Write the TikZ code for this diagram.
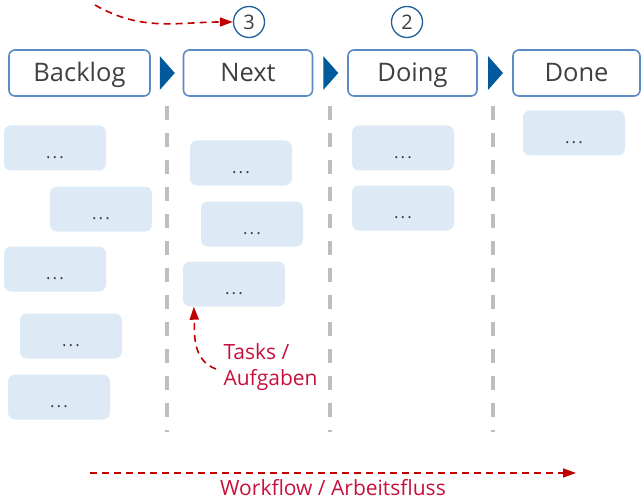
\documentclass[tikz,border=0pt]{standalone}
\usepackage{fontspec}
\setmainfont{Open Sans}
\usetikzlibrary{arrows.meta,calc}
\definecolor{boxblue}{RGB}{91,138,198}
\definecolor{tipblue}{RGB}{0,90,156}
\definecolor{countblue}{RGB}{31,95,155}
\definecolor{cardblue}{RGB}{221,234,245}
\definecolor{txtgray}{RGB}{64,64,64}
\definecolor{lanegray}{RGB}{190,190,190}
\definecolor{flowred}{RGB}{192,0,0}
\definecolor{notered}{RGB}{200,16,60}

\begin{document}
\begin{tikzpicture}[x=1pt,y=-1pt,
   stage/.style={draw=boxblue, line width=1.6pt, rounded corners=6pt, fill=white,
                 minimum height=46pt, minimum width=129pt, text=txtgray,
                 text height=23pt, text depth=5pt, inner ysep=0pt,
                 font=\fontsize{25.5}{28}\selectfont},
   card/.style={fill=cardblue, rounded corners=7pt, minimum width=102pt,
                minimum height=45pt, text height=21pt, text depth=0pt, inner sep=0pt,
                text=txtgray, font=\fontsize{17}{17}\selectfont},
   count/.style={draw=countblue, circle, line width=1.3pt, minimum size=31pt,
                 inner sep=0pt, text=txtgray, font=\fontsize{20}{20}\selectfont},
   lane/.style={draw=lanegray, line width=3.5pt, dash pattern=on 14pt off 13pt},
   flowtip/.style={fill=tipblue},
   flow/.style={draw=flowred, line width=1.6pt, dash pattern=on 7pt off 5pt,
                -{Triangle[length=13pt,width=9pt]}},
   note/.style={text=notered, font=\fontsize{21}{26}\selectfont}]

\useasboundingbox (0,0) rectangle (641,503);

% lanes
\foreach \lx in {167,330,493}
   \draw[lane] (\lx,106) -- (\lx,432);

% stages
\node[stage, minimum width=141pt] (backlog) at (79.5,73) {Backlog};
\node[stage] (next)  at (248,73)   {Next};
\node[stage] (doing) at (412.5,73) {Doing};
\node[stage, minimum width=127pt] (done) at (576.5,73) {Done};

\foreach \a/\b in {backlog/next,next/doing,doing/done}
   \fill[flowtip] ($(\a.east)!0.5!(\b.west)+(-7,-17)$) -- ++(15,17) -- ++(-15,17) -- cycle;

% limits
\node[count] (c3) at (249,22) {3};
\node[count] (c2) at (407,22) {2};

% cards
\def\carddots{.\kern2.2pt.\kern2.2pt.}
\node[card] (b1) at (55,148)  {\carddots};
\node[card] (b2) at (101,209) {\carddots};
\node[card] (b3) at (55,269)  {\carddots};
\node[card] (b4) at (71,336)  {\carddots};
\node[card] (b5) at (59,397)  {\carddots};
\node[card] (n1) at (241,163) {\carddots};
\node[card] (n2) at (252,224) {\carddots};
\node[card] (n3) at (234,284) {\carddots};
\node[card] (d1) at (403,148) {\carddots};
\node[card] (d2) at (403,208) {\carddots};
\node[card] (e1) at (574,133) {\carddots};

% notes
\coordinate (qstart) at (95,5);
\draw[flow] (qstart) to[out=-30,in=180] (c3.west);

\node[note, align=left, anchor=north west] (tasks) at (220,340) {Tasks /\\Aufgaben};
\draw[flow] ([xshift=-4pt,yshift=-2pt]tasks.west) to[out=160,in=-88] ([xshift=11pt]n3.south west);

\coordinate (wfstart) at (90,473);
\coordinate (wfend) at (576,473);
\draw[flow] (wfstart) -- (wfend) node[note, midway, below=2pt] (workflow) {Workflow / Arbeitsfluss};

\end{tikzpicture}
\end{document}
